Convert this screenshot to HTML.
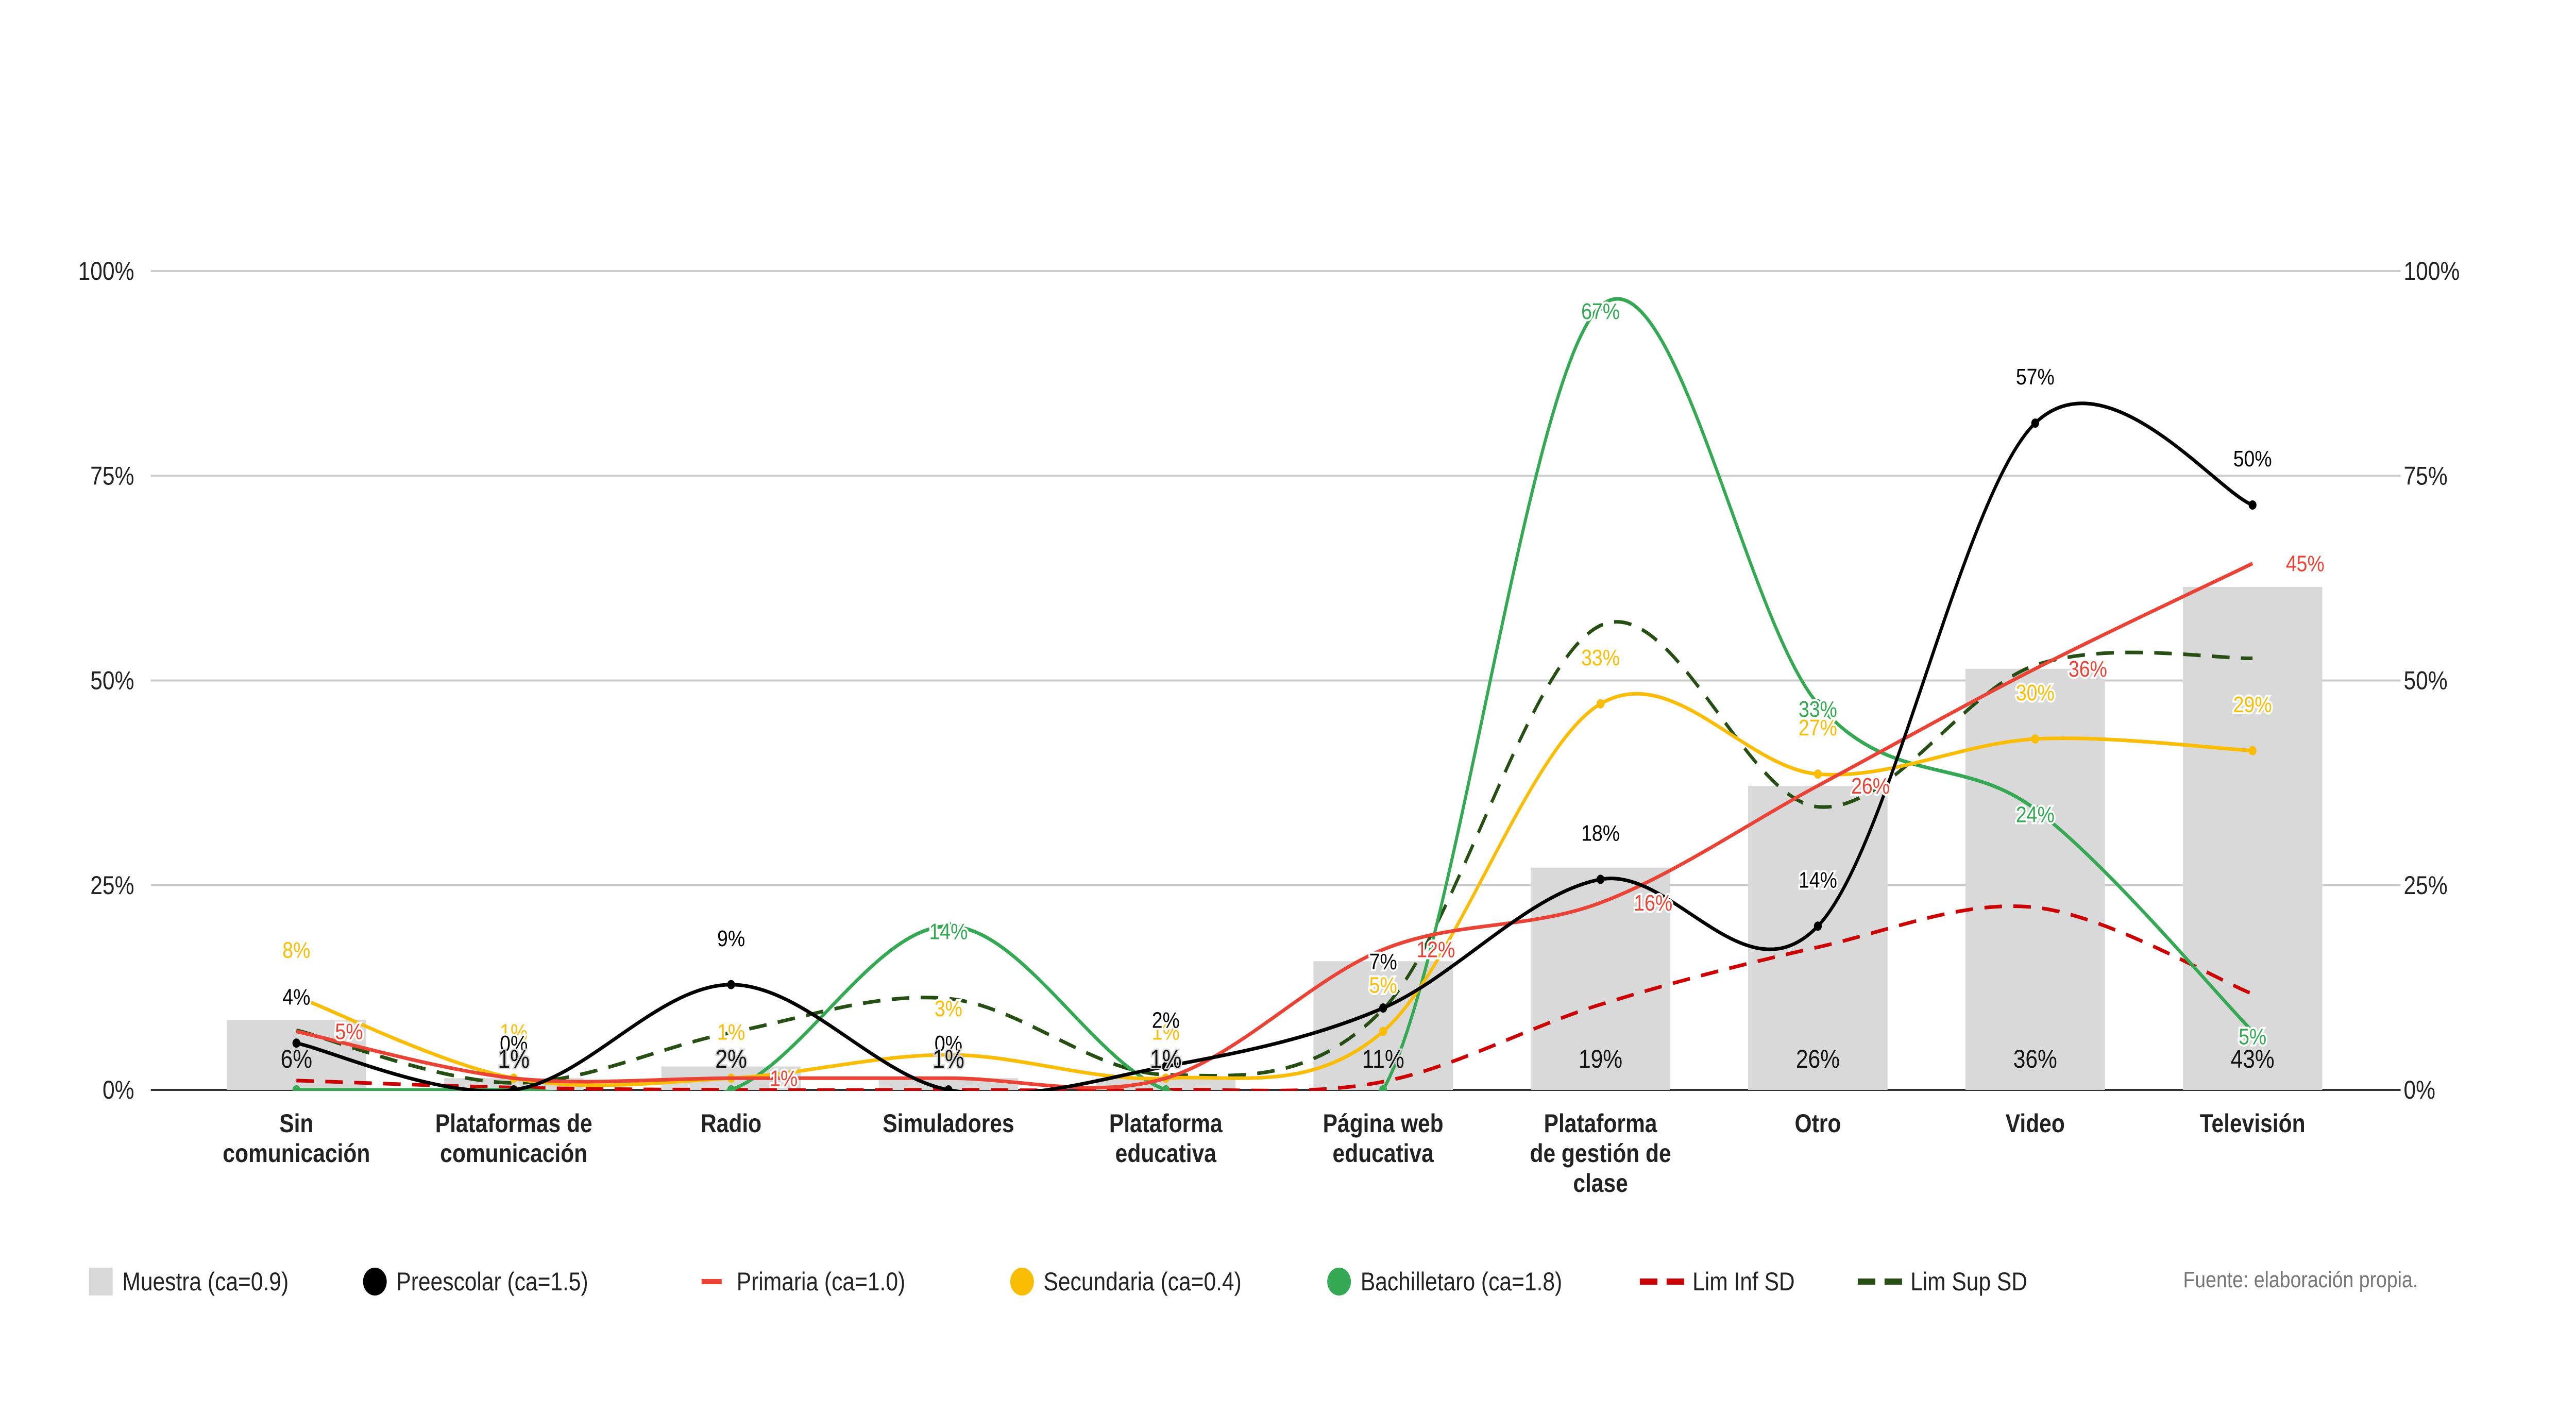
<!DOCTYPE html>
<html><head><meta charset="utf-8">
<style>
html,body{margin:0;padding:0;background:#fff;width:100%;height:100%;overflow:hidden;}
svg{display:block;width:100vw;height:100vh;font-family:"Liberation Sans",Arial,sans-serif;}
</style></head>
<body>
<svg id="chart" viewBox="0 0 5875 2742" preserveAspectRatio="none" xmlns="http://www.w3.org/2000/svg">
<defs><clipPath id="plotclip"><rect x="344" y="0" width="5131" height="2117"/></clipPath></defs>
<rect width="5875" height="2742" fill="#fff"/>
<g id="grid"></g><g id="bars"></g><g id="lines" clip-path="url(#plotclip)"></g><g id="labels"></g><g id="axes"></g><g id="legend"></g>
</svg>
<script>
const categories = [["Sin","comunicación"],["Plataformas de","comunicación"],["Radio"],["Simuladores"],["Plataforma","educativa"],["Página web","educativa"],["Plataforma","de gestión de","clase"],["Otro"],["Video"],["Televisión"]];
const muestra = [6,1,2,1,1,11,19,26,36,43];
const preescolar = [4,0,9,0,2,7,18,14,57,50];
const primaria = [5,1,1,1,1,12,16,26,36,45];
const secundaria = [8,1,1,3,1,5,33,27,30,29];
const bachillerato = [0,0,0,14,0,0,67,33,24,5];
const limInf = [0.8,0.2,0,0,0,0.7,7.3,12.2,15.6,8.2];
const limSup = [5.1,0.6,4.9,7.8,1.3,6.9,39.7,24.2,36.3,36.9];
const tickValues = [0,17.5,35,52.5,70];
const tickLabels = ["0%","25%","50%","75%","100%"];
const yMax = 70;

const NS="http://www.w3.org/2000/svg";
const X0=344, X1=5475, Y0=2115, Y100=526;
function xPos(i){return 676+i*495.7;}
function yPos(v){return Y0-(v/yMax)*(Y0-Y100);}
function mk(tag,attrs,parent){const e=document.createElementNS(NS,tag);for(const k in attrs)e.setAttribute(k,attrs[k]);parent.appendChild(e);return e;}
const G=id=>document.getElementById(id);

tickValues.forEach((t,i)=>{
  const gl=mk('line',{x1:X0,x2:X1,y1:yPos(t),y2:yPos(t),stroke:i===0?'#333':'#ccc','stroke-width':4},G('grid'));
  
  
  const l=mk('text',{x:306,y:yPos(t),'text-anchor':'end','dominant-baseline':'central','font-size':50,fill:'#222'},G('axes'));
  l.textContent=tickLabels[i];
  
  
  const r=mk('text',{x:5482,y:yPos(t),'text-anchor':'start','dominant-baseline':'central','font-size':50,fill:'#222'},G('axes'));
  r.textContent=tickLabels[i];
  
  
});

categories.forEach((c,i)=>{
  c.forEach((ln,j)=>{
    const t=mk('text',{x:xPos(i),y:2180+j*58,'text-anchor':'middle','dominant-baseline':'central','font-size':50,'font-weight':'bold',fill:'#222'},G('axes'));
    t.textContent=ln;
    
    
  });
});

muestra.forEach((v,i)=>{
  const b=mk('rect',{x:xPos(i)-159,y:yPos(v),width:318,height:Y0-yPos(v),fill:'#d9d9d9'},G('bars'));
  
  
});

function pathD(vals){
  const p=vals.map((v,i)=>[xPos(i),yPos(v)]);
  let d=`M${p[0][0]},${p[0][1]}`;
  for(let i=0;i<p.length-1;i++){
    const p0=p[i-1]||p[i],p1=p[i],p2=p[i+1],p3=p[i+2]||p[i+1];
    const c1=[p1[0]+(p2[0]-p0[0])/6,p1[1]+(p2[1]-p0[1])/6];
    const c2=[p2[0]-(p3[0]-p1[0])/6,p2[1]-(p3[1]-p1[1])/6];
    d+=` C${c1[0]},${c1[1]} ${c2[0]},${c2[1]} ${p2[0]},${p2[1]}`;
  }
  return d;
}
const series=[
 {vals:limInf,color:'#cc0000',dash:'40 26',name:'line-lim-inf-sd'},
 {vals:limSup,color:'#274e13',dash:'40 26',name:'line-lim-sup-sd'},
 {vals:bachillerato,color:'#34a853',name:'line-bachillerato',dots:true,ldx:0,ldy:10,skipZero:true},
 {vals:secundaria,color:'#fbbc04',name:'line-secundaria',dots:true,ldx:0,ldy:-90},
 {vals:primaria,color:'#ea4335',name:'line-primaria',ldx:120,ldy:0,skip:[1,3,4]},
 {vals:preescolar,color:'#000',name:'line-preescolar',dots:true,ldx:0,ldy:-90},
];
series.forEach(s=>{
  const p=mk('path',{d:pathD(s.vals),fill:'none',stroke:s.color,'stroke-width':7},G('lines'));
  if(s.dash)p.setAttribute('stroke-dasharray',s.dash);
  
  
  if(s.dots)s.vals.forEach((v,i)=>{
    const c=mk('circle',{cx:xPos(i),cy:yPos(v),r:9,fill:s.color},G('lines'));
    
    
  });
  if(s.ldy!==undefined)s.vals.forEach((v,i)=>{
    if(s.skipZero&&v===0)return;
    if(s.skip&&s.skip.includes(i))return;
    const t=mk('text',{x:xPos(i)+s.ldx,y:yPos(v)+s.ldy,'text-anchor':'middle','dominant-baseline':'central','font-size':44,fill:s.color,stroke:'#fff','stroke-width':8,'paint-order':'stroke'},G('labels'));
    t.textContent=v+'%';
    
    
  });
});
muestra.forEach((v,i)=>{
  const t=mk('text',{x:xPos(i),y:Y0-60,'text-anchor':'middle','dominant-baseline':'central','font-size':50,fill:'#111',stroke:'#d9d9d9','stroke-width':6,'paint-order':'stroke'},G('labels'));
  t.textContent=v+'%';
  
  
});

const legendItems=[
 {type:'rect',color:'#d9d9d9',x:203,tx:279,label:'Muestra (ca=0.9)'},
 {type:'circle',color:'#000',x:855,tx:904,label:'Preescolar  (ca=1.5)'},
 {type:'line',color:'#ea4335',x:1600,tx:1680,label:'Primaria (ca=1.0)'},
 {type:'circle',color:'#fbbc04',x:2331,tx:2380,label:'Secundaria (ca=0.4)'},
 {type:'circle',color:'#34a853',x:3054,tx:3103,label:'Bachilletaro (ca=1.8)'},
 {type:'dash',color:'#cc0000',x:3740,tx:3860,label:'Lim Inf SD'},
 {type:'dash',color:'#274e13',x:4237,tx:4357,label:'Lim Sup SD'},
];
const LY=2487;
legendItems.forEach(it=>{
  const g=mk('g',{},G('legend'));
  
  
  if(it.type==='rect')mk('rect',{x:it.x,y:LY-27,width:54,height:54,fill:it.color},g);
  if(it.type==='circle')mk('circle',{cx:it.x,cy:LY,r:27,fill:it.color},g);
  if(it.type==='line')mk('line',{x1:it.x,x2:it.x+46,y1:LY,y2:LY,stroke:it.color,'stroke-width':10},g);
  if(it.type==='dash')mk('line',{x1:it.x,x2:it.x+101,y1:LY,y2:LY,stroke:it.color,'stroke-width':12,'stroke-dasharray':'40 21'},g);
  const t=mk('text',{x:it.tx,y:LY,'dominant-baseline':'central','font-size':50,fill:'#222'},g);
  t.textContent=it.label;
});
const f=mk('text',{x:4979,y:LY-4,'dominant-baseline':'central','font-size':44,fill:'#757575'},G('legend'));
f.textContent='Fuente: elaboración propia.';


</script>
</body></html>
